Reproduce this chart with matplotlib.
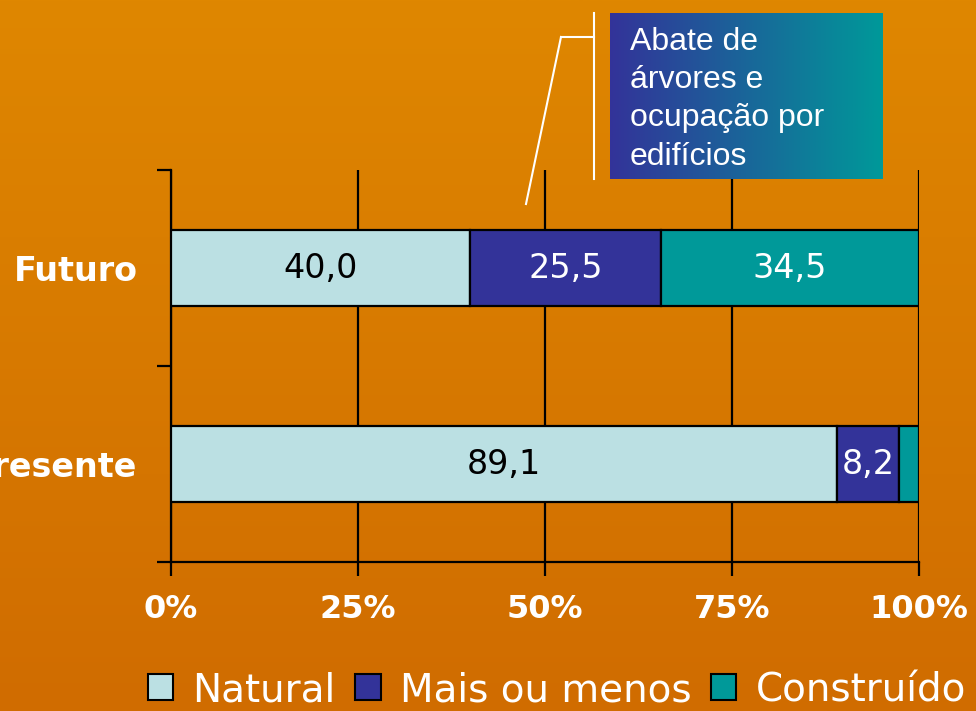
import numpy as np
import matplotlib
matplotlib.use("Agg")
import matplotlib.pyplot as plt
from matplotlib.patches import Patch
from matplotlib.lines import Line2D
from matplotlib.colors import LinearSegmentedColormap

# dados
categorias = ["Presente", "Futuro"]
natural = [89.1, 40.0]
mais_ou_menos = [8.2, 25.5]
construido = [2.7, 34.5]
series_nomes = ["Natural", "Mais ou menos", "Construído"]
x_ticks = [0, 25, 50, 75, 100]
x_labels = ["0%", "25%", "50%", "75%", "100%"]
nota = "Abate de\nárvores e\nocupação por\nedifícios"

CORES = ["#BBE0E3", "#333399", "#009999"]
COR_TEXTO = ["black", "white", "white"]

W, H = 976, 711
fig = plt.figure(figsize=(W / 100, H / 100), dpi=100)

# fundo laranja em degradê
bg = fig.add_axes([0, 0, 1, 1], zorder=-10)
grad_bg = LinearSegmentedColormap.from_list("bg", ["#DF8700", "#D06C00"])
bg.imshow(np.linspace(0, 1, 256).reshape(-1, 1), aspect="auto", cmap=grad_bg,
          extent=[0, 1, 0, 1])
bg.axis("off")

ax = fig.add_axes([171 / W, 1 - 562 / H, 748 / W, 392 / H])
ax.set_facecolor("none")

y = np.arange(len(categorias))
left = np.zeros(len(categorias))
for vals, nome, cor, ctxt in zip([natural, mais_ou_menos, construido],
                                 series_nomes, CORES, COR_TEXTO):
    ax.barh(y, vals, left=left, height=0.39, color=cor, edgecolor="black",
            linewidth=1.6, label=nome, zorder=3)
    for yi, l, v in zip(y, left, vals):
        if v >= 5:
            ax.text(l + v / 2, yi, f"{v:.1f}".replace(".", ","), ha="center",
                    va="center", color=ctxt, fontsize=24, zorder=4)
    left = left + np.array(vals)

ax.set_xlim(0, 100)
ax.set_ylim(-0.5, 1.5)
ax.set_xticks(x_ticks)
ax.set_xticklabels(x_labels, fontsize=23, fontweight="bold", color="white")
ax.set_yticks(y)
ax.set_yticklabels(categorias, fontsize=24, fontweight="bold", color="white")
ax.set_yticks([-0.5, 0.5, 1.5], minor=True)
ax.tick_params(axis="y", which="major", length=0, pad=24)
ax.tick_params(axis="y", which="minor", length=10, width=1.6, color="black")
ax.tick_params(axis="x", length=10, width=1.6, color="black", pad=13)
ax.xaxis.grid(True, color="black", linewidth=1.6)
ax.set_axisbelow(True)
for s in ["top", "right"]:
    ax.spines[s].set_visible(False)
for s in ["left", "bottom"]:
    ax.spines[s].set_linewidth(1.6)
    ax.spines[s].set_color("black")

# caixa de nota com degradê
box = fig.add_axes([610 / W, 1 - 179 / H, 273 / W, 166 / H])
grad_box = LinearSegmentedColormap.from_list("box", ["#333399", "#009999"])
box.imshow(np.linspace(0, 1, 256).reshape(1, -1), aspect="auto", cmap=grad_box,
           extent=[0, 1, 0, 1])
box.axis("off")
box.text(20 / 273, 0.48, nota, ha="left", va="center", color="white",
         fontsize=23, family="Liberation Sans", linespacing=1.36,
         transform=box.transAxes)

# linhas do balão
def px(xp, yp):
    return xp / W, 1 - yp / H

for (x0, y0), (x1, y1) in [((594, 13), (594, 179)), ((561, 37), (594, 37)),
                           ((561, 37), (526, 204))]:
    a, b = px(x0, y0)
    c, d = px(x1, y1)
    fig.add_artist(Line2D([a, c], [b, d], color="white", linewidth=1.5,
                          transform=fig.transFigure))

handles = [Patch(facecolor=c, edgecolor="black", linewidth=1.5) for c in CORES]
leg = fig.legend(handles, series_nomes, loc="center", ncol=3,
                 bbox_to_anchor=(557 / W, 1 - 690 / H), frameon=False,
                 fontsize=28, handlelength=0.65, handleheight=0.65,
                 handletextpad=0.5, columnspacing=0.5, borderpad=0)
for t in leg.get_texts():
    t.set_color("white")

fig.savefig("out.png", dpi=100)
